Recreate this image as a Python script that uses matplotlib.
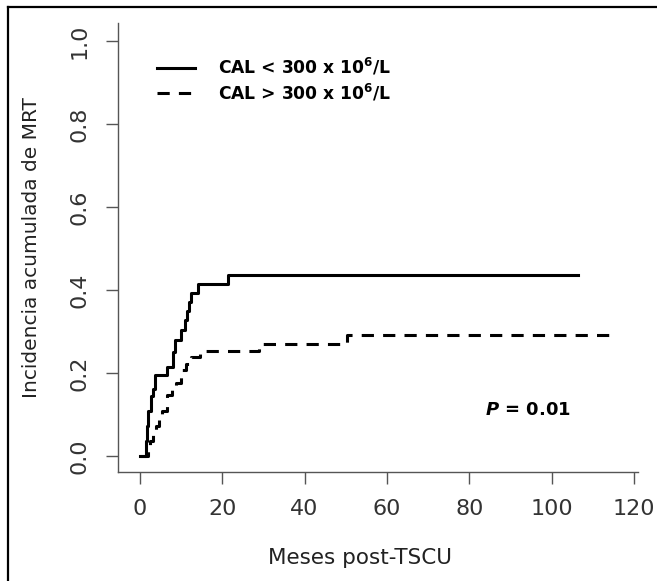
import matplotlib
matplotlib.use("Agg")
import matplotlib.pyplot as plt
from matplotlib.lines import Line2D

# cumulative incidence, step points (months, value)
months_low = [0, 1.5, 1.8, 2.1, 2.8, 3.2, 3.8, 6.5, 8.1, 8.6, 10.1, 11.0, 11.5,
              12.0, 12.5, 14.2, 21.5, 106.4]
inc_low = [0, 0.036, 0.071, 0.107, 0.143, 0.161, 0.195, 0.215, 0.25, 0.28,
           0.304, 0.328, 0.35, 0.37, 0.392, 0.414, 0.436, 0.436]

months_high = [0, 2.0, 2.4, 3.2, 4.0, 4.7, 5.3, 6.5, 7.7, 8.9, 10.1, 11.3, 12.5,
               14.6, 29.0, 50.2, 115.4]
inc_high = [0, 0.018, 0.036, 0.054, 0.071, 0.089, 0.107, 0.147, 0.161, 0.175,
            0.207, 0.222, 0.238, 0.253, 0.27, 0.292, 0.292]

labels = [r"CAL < 300 x 10$^{\mathbf{6}}$/L", r"CAL > 300 x 10$^{\mathbf{6}}$/L"]
xticks = [0, 20, 40, 60, 80, 100, 120]
yticks = [0.0, 0.2, 0.4, 0.6, 0.8, 1.0]

plt.rcParams['font.family'] = ['DejaVu Sans']
plt.rcParams['mathtext.default'] = 'bf'

fig = plt.figure(figsize=(6.57, 5.81), dpi=100)
ax = fig.add_axes([118 / 657, 1 - 472 / 581, 520 / 657, 449 / 581])

ax.step(months_low, inc_low, where='post', color='black', lw=2.2,
        label=labels[0])
ax.step(months_high, inc_high, where='post', color='black', lw=2.2,
        dashes=(4, 3), label=labels[1])

ax.set_xlim(-5.3, 121)
ax.set_ylim(-0.039, 1.043)

for s in ['top', 'right']:
    ax.spines[s].set_visible(False)
for s in ['left', 'bottom']:
    ax.spines[s].set_color('#555555')
    ax.spines[s].set_linewidth(1)

ax.set_xticks(xticks)
ax.set_xticklabels([str(t) for t in xticks])
ax.set_yticks(yticks)
ax.set_yticklabels(['%.1f' % t for t in yticks], rotation=90, va='center')
ax.tick_params(axis='both', length=8.5, width=1, color='#555555',
               labelsize=16, labelcolor='#333333')
ax.tick_params(axis='x', pad=11)
ax.tick_params(axis='y', pad=12)

ax.set_xlabel('Meses post-TSCU', fontsize=15.5, color='#222222')
ax.set_ylabel('Incidencia acumulada de MRT', fontsize=14.5, color='#222222')
ax.xaxis.set_label_coords(0.465, -0.17)
ax.yaxis.set_label_coords(-0.148, 0.5)

leg = ax.legend(loc='upper left', bbox_to_anchor=(0.075, 0.925),
                frameon=False, borderpad=0, borderaxespad=0,
                handlelength=2.2, handletextpad=1.4, labelspacing=0.25,
                prop={'weight': 'bold', 'size': 12.3})

ax.text(83.8, 0.111, r"$\mathbfit{P}$ = 0.01", fontsize=13, fontweight='bold',
        va='center', ha='left')

# border around the picture
fig.add_artist(Line2D([8 / 657, 1], [1 - 6.5 / 581, 1 - 6.5 / 581],
                      color='black', lw=1.6, transform=fig.transFigure))
fig.add_artist(Line2D([8 / 657, 8 / 657], [0, 1 - 6.5 / 581],
                      color='black', lw=1.6, transform=fig.transFigure))

fig.savefig('out.png', dpi=100)
